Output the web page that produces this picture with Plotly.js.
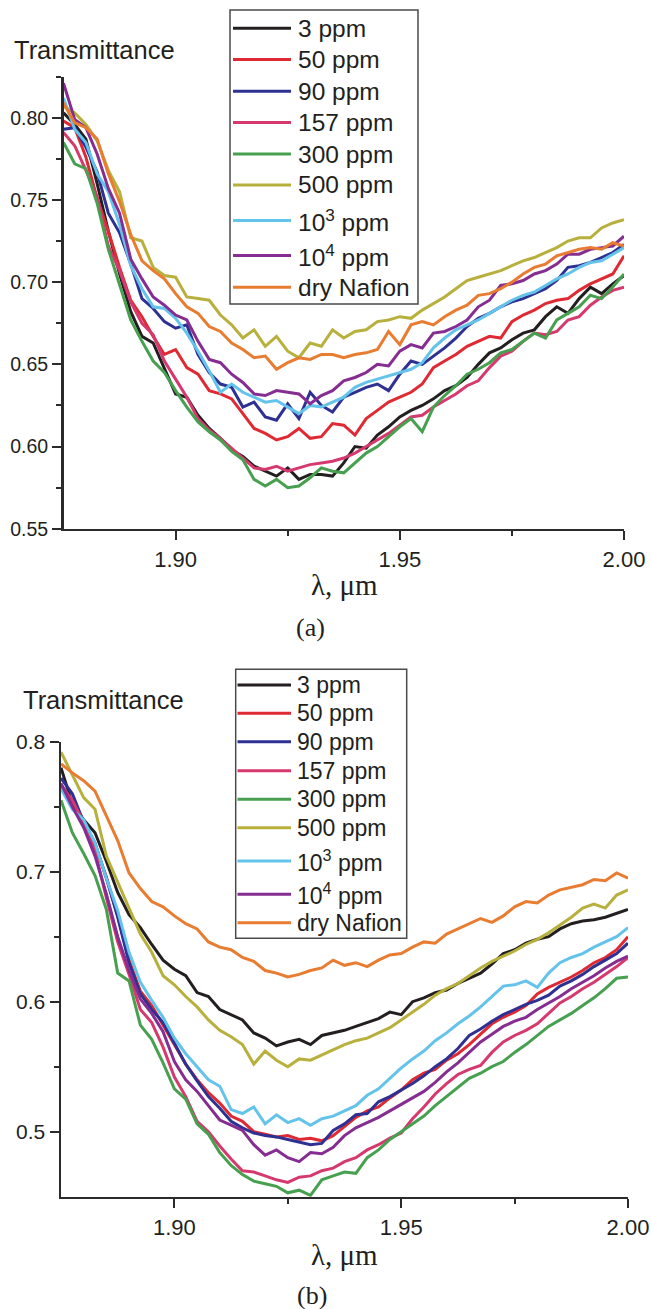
<!DOCTYPE html>
<html>
<head>
<meta charset="utf-8">
<script src="https://cdn.plot.ly/plotly-3.0.1.min.js"></script>
<style>
html,body{margin:0;padding:0;background:#fff;}
#chart{width:651px;height:1309px;}
</style>
</head>
<body>
<div id="chart"></div>
<script>
// ---------- DATA ----------
const wavelength = [1.875,1.8775,1.88,1.8825,1.885,1.8875,1.89,1.8925,1.895,1.8975,
  1.9,1.9025,1.905,1.9075,1.91,1.9125,1.915,1.9175,1.92,1.9225,
  1.925,1.9275,1.93,1.9325,1.935,1.9375,1.94,1.9425,1.945,1.9475,
  1.95,1.9525,1.955,1.9575,1.96,1.9625,1.965,1.9675,1.97,1.9725,
  1.975,1.9775,1.98,1.9825,1.985,1.9875,1.99,1.9925,1.995,1.9975,2.0];

const seriesNames = ['3 ppm','50 ppm','90 ppm','157 ppm','300 ppm','500 ppm','10<sup>3</sup> ppm','10<sup>4</sup> ppm','dry Nafion'];

// panel (a)
const a_3ppm = [.803,.796,.787,.760,.731,.705,.682,.667,.663,.648, .632,.630,.619,.611,.605,.598,.594,.588,.585,.582, .587,.580,.583,.583,.582,.590,.600,.599,.607,.612, .618,.622,.625,.629,.634,.637,.642,.650,.657,.660, .665,.669,.671,.679,.685,.681,.690,.697,.693,.699, .704];
const a_50ppm = [.798,.794,.776,.751,.731,.709,.689,.679,.667,.656, .659,.648,.644,.634,.632,.629,.620,.611,.608,.604, .606,.611,.605,.606,.614,.613,.607,.617,.622,.627, .630,.633,.638,.648,.652,.656,.661,.664,.667,.666, .676,.680,.683,.687,.689,.690,.695,.699,.702,.705, .716];
const a_90ppm = [.793,.794,.782,.767,.742,.730,.711,.690,.684,.676, .672,.674,.656,.645,.638,.636,.624,.627,.618,.616, .626,.617,.633,.625,.621,.630,.633,.636,.638,.634, .644,.652,.650,.655,.660,.666,.673,.678,.681,.685, .688,.690,.693,.696,.701,.709,.710,.712,.715,.718, .723];
const a_157ppm = [.791,.783,.768,.752,.722,.707,.688,.675,.668,.652, .641,.630,.617,.610,.605,.599,.593,.587,.586,.588, .585,.587,.589,.590,.591,.593,.596,.600,.604,.608, .613,.618,.619,.624,.628,.632,.637,.640,.648,.655, .658,.664,.669,.668,.670,.677,.679,.686,.691,.695, .697];
const a_300ppm = [.785,.772,.769,.748,.720,.699,.677,.664,.652,.645, .634,.624,.615,.609,.604,.597,.592,.580,.576,.580, .575,.576,.581,.587,.585,.584,.590,.596,.600,.606, .612,.617,.609,.624,.631,.637,.644,.647,.651,.657, .659,.664,.669,.666,.677,.681,.685,.692,.690,.697, .705];
const a_500ppm = [.807,.803,.796,.786,.768,.755,.727,.725,.709,.704, .703,.691,.690,.689,.680,.674,.666,.671,.661,.667, .658,.654,.663,.661,.671,.666,.670,.671,.676,.677, .679,.678,.683,.687,.691,.696,.701,.703,.705,.707, .710,.713,.715,.718,.721,.725,.727,.727,.733,.736, .738];
const a_1e3ppm = [.812,.793,.785,.766,.755,.735,.710,.696,.685,.684, .678,.669,.658,.646,.633,.638,.633,.630,.627,.628, .624,.620,.625,.624,.627,.630,.636,.639,.641,.643, .645,.647,.651,.660,.666,.671,.674,.677,.681,.685, .689,.692,.694,.698,.702,.705,.709,.712,.713,.717, .721];
const a_1e4ppm = [.821,.799,.794,.778,.757,.742,.714,.702,.691,.686, .680,.677,.664,.653,.651,.644,.639,.632,.631,.634, .633,.632,.626,.631,.634,.640,.642,.645,.650,.649, .658,.662,.660,.669,.670,.673,.677,.685,.689,.698, .699,.701,.705,.707,.711,.717,.717,.720,.721,.722, .728];
const a_dry = [.809,.797,.794,.787,.766,.749,.729,.713,.707,.702, .693,.685,.681,.673,.670,.663,.659,.654,.655,.647, .651,.654,.653,.656,.656,.654,.656,.657,.659,.670, .662,.674,.676,.674,.679,.683,.686,.692,.693,.696, .700,.705,.709,.711,.716,.718,.720,.721,.720,.724, .722];

// panel (b)
const b_3ppm = [.780,.752,.740,.730,.708,.684,.667,.657,.644,.632, .625,.620,.607,.604,.594,.590,.586,.576,.572,.566, .569,.571,.567,.574,.576,.578,.581,.584,.587,.592, .590,.600,.603,.607,.609,.614,.618,.622,.629,.637, .640,.645,.648,.650,.656,.660,.662,.663,.665,.668, .671];
const b_50ppm = [.765,.755,.738,.720,.696,.666,.632,.608,.597,.582, .566,.552,.540,.530,.522,.512,.508,.500,.498,.496, .497,.494,.495,.493,.497,.504,.511,.516,.519,.526, .532,.540,.545,.548,.555,.560,.567,.575,.583,.588, .592,.597,.606,.611,.615,.619,.624,.630,.634,.640, .650];
const b_90ppm = [.772,.760,.738,.722,.695,.665,.630,.606,.594,.584, .568,.552,.539,.527,.518,.508,.503,.499,.497,.496, .494,.492,.490,.491,.501,.506,.513,.514,.523,.527, .532,.537,.543,.550,.556,.564,.574,.579,.585,.590, .594,.598,.601,.605,.612,.616,.621,.627,.632,.637, .645];
const b_157ppm = [.767,.755,.738,.716,.680,.646,.621,.594,.584,.565, .542,.527,.508,.500,.489,.479,.470,.469,.466,.463, .461,.465,.466,.470,.472,.477,.480,.486,.490,.495, .499,.510,.519,.529,.537,.544,.548,.551,.561,.569, .574,.578,.583,.591,.599,.604,.610,.615,.621,.627, .634];
const b_300ppm = [.755,.730,.714,.697,.671,.622,.616,.582,.571,.553, .533,.525,.506,.498,.484,.474,.467,.462,.460,.458, .453,.455,.451,.463,.466,.469,.468,.480,.486,.494, .500,.506,.512,.520,.527,.534,.541,.545,.550,.554, .561,.567,.574,.581,.586,.591,.597,.603,.610,.618, .619];
const b_500ppm = [.792,.775,.757,.748,.712,.692,.672,.652,.638,.620, .613,.604,.596,.586,.578,.573,.567,.552,.562,.555, .550,.556,.555,.559,.563,.567,.570,.572,.576,.580, .586,.592,.598,.605,.610,.614,.620,.626,.631,.635, .639,.644,.648,.653,.659,.665,.672,.675,.672,.682, .686];
const b_1e3ppm = [.764,.748,.740,.722,.695,.670,.638,.615,.601,.588, .572,.560,.550,.540,.535,.517,.514,.519,.506,.513, .507,.510,.505,.510,.512,.516,.520,.528,.533,.541, .549,.556,.562,.570,.576,.583,.589,.596,.604,.612, .613,.616,.611,.622,.630,.634,.637,.642,.646,.650, .657];
const b_1e4ppm = [.768,.750,.734,.712,.683,.650,.624,.602,.591,.577, .554,.540,.531,.520,.509,.505,.501,.490,.482,.486, .480,.477,.484,.483,.488,.497,.503,.507,.511,.516, .521,.526,.531,.538,.546,.553,.561,.569,.575,.581, .585,.588,.594,.599,.604,.610,.615,.620,.626,.631, .635];
const b_dry = [.783,.776,.770,.762,.743,.724,.699,.687,.677,.673, .666,.660,.656,.646,.642,.640,.634,.631,.624,.622, .619,.621,.624,.626,.632,.628,.630,.627,.632,.636, .637,.642,.646,.645,.652,.656,.660,.664,.661,.666, .673,.677,.676,.682,.686,.688,.690,.694,.693,.699, .695];

const xTickVals = [1.90, 1.95, 2.00];
const xTickText = ['1.90', '1.95', '2.00'];
const yTickValsA = [0.55, 0.60, 0.65, 0.70, 0.75, 0.80];
const yTickTextA = ['0.55', '0.60', '0.65', '0.70', '0.75', '0.80'];
const yTickValsB = [0.5, 0.6, 0.7, 0.8];
const yTickTextB = ['0.5', '0.6', '0.7', '0.8'];

// ---------- STYLE / LAYOUT ----------
const colors = ['#231f20','#df2a33','#2e3192','#d6396e','#47a04f','#b8b03c','#63c3ea','#852d91','#e87c30'];
const seriesA = [a_3ppm,a_50ppm,a_90ppm,a_157ppm,a_300ppm,a_500ppm,a_1e3ppm,a_1e4ppm,a_dry];
const seriesB = [b_3ppm,b_50ppm,b_90ppm,b_157ppm,b_300ppm,b_500ppm,b_1e3ppm,b_1e4ppm,b_dry];

const W = 651, H = 1309;
const px = v => v / W;
const py = v => 1 - v / H;

const SANS = 'Liberation Sans, Arial, Helvetica, sans-serif';
const SERIF = 'Liberation Serif, Times New Roman, serif';
const INK = '#231f20';
const AX = '#2b2b2b';

const traces = [];
seriesA.forEach((ys, i) => traces.push({
  x: wavelength, y: ys, type: 'scatter', mode: 'lines', name: seriesNames[i],
  xaxis: 'x', yaxis: 'y', line: {color: colors[i], width: 3}, hoverinfo: 'skip', showlegend: false
}));
seriesB.forEach((ys, i) => traces.push({
  x: wavelength, y: ys, type: 'scatter', mode: 'lines', name: seriesNames[i],
  xaxis: 'x2', yaxis: 'y2', line: {color: colors[i], width: 3}, hoverinfo: 'skip', showlegend: false
}));

function axisBase(extra) {
  return Object.assign({
    showline: true, linecolor: AX, linewidth: 2.5, mirror: false,
    ticks: 'outside', ticklen: 9, tickwidth: 2, tickcolor: AX,
    showgrid: false, zeroline: false, fixedrange: true,
    tickmode: 'array'
  }, extra);
}

const layout = {
  width: W, height: H,
  margin: {l: 0, r: 0, t: 0, b: 0},
  paper_bgcolor: '#fff', plot_bgcolor: '#fff',
  showlegend: false,
  xaxis: axisBase({
    domain: [px(63.5), px(624)], range: [1.875, 2.0], anchor: 'y',
    tickvals: xTickVals, ticktext: xTickText,
    tickfont: {family: SANS, size: 22, color: INK},
    minor: {tickmode: 'array', tickvals: [1.925, 1.975], ticks: 'outside', ticklen: 5, tickwidth: 2, tickcolor: AX}
  }),
  yaxis: axisBase({
    domain: [py(528.7), py(76.7)], range: [0.55, 0.825], anchor: 'x',
    tickvals: yTickValsA, ticktext: yTickTextA,
    tickfont: {family: SANS, size: 19.5, color: INK},
    minor: {tickmode: 'array', tickvals: [0.575, 0.625, 0.675, 0.725, 0.775, 0.825], ticks: 'outside', ticklen: 5, tickwidth: 2, tickcolor: AX}
  }),
  xaxis2: axisBase({
    domain: [px(61), px(628)], range: [1.875, 2.0], anchor: 'y2',
    tickvals: xTickVals, ticktext: xTickText,
    tickfont: {family: SANS, size: 22, color: INK},
    minor: {tickmode: 'array', tickvals: [1.925, 1.975], ticks: 'outside', ticklen: 5, tickwidth: 2, tickcolor: AX}
  }),
  yaxis2: axisBase({
    domain: [py(1196.7), py(741.7)], range: [0.45, 0.8], anchor: 'x2',
    tickvals: yTickValsB, ticktext: yTickTextB,
    tickfont: {family: SANS, size: 21, color: INK},
    minor: {tickmode: 'array', tickvals: [0.55, 0.65, 0.75], ticks: 'outside', ticklen: 5, tickwidth: 2, tickcolor: AX}
  }),
  shapes: [],
  annotations: []
};

function addText(text, x, y, font, xanchor) {
  layout.annotations.push({
    text: text, xref: 'paper', yref: 'paper', x: px(x), y: py(y),
    xanchor: xanchor || 'left', yanchor: 'middle', showarrow: false, font: font
  });
}
addText('Transmittance', 12, 50, {family: SANS, size: 25.5, color: INK});
addText('Transmittance', 21, 700, {family: SANS, size: 25.5, color: INK});
addText('λ, μm', 344, 585, {family: SERIF, size: 29, color: INK}, 'center');
addText('λ, μm', 344.5, 1255, {family: SERIF, size: 29, color: INK}, 'center');
addText('(a)', 310, 628, {family: SERIF, size: 26, color: INK}, 'center');
addText('(b)', 312, 1295, {family: SERIF, size: 26, color: INK}, 'center');

function addLegend(box, rows, lineX0, lineX1, textX, fontSize) {
  layout.shapes.push({
    type: 'rect', xref: 'paper', yref: 'paper', layer: 'above',
    x0: px(box[0]), x1: px(box[1]), y0: py(box[3]), y1: py(box[2]),
    line: {color: '#4a4a4a', width: 1.5}, fillcolor: '#fff'
  });
  rows.forEach((ry, i) => {
    layout.shapes.push({
      type: 'line', xref: 'paper', yref: 'paper', layer: 'above',
      x0: px(lineX0), x1: px(lineX1), y0: py(ry), y1: py(ry),
      line: {color: colors[i], width: 3}
    });
    layout.annotations.push({
      text: seriesNames[i], xref: 'paper', yref: 'paper',
      x: px(textX), y: py(ry), xanchor: 'left', yanchor: 'middle',
      showarrow: false, borderpad: 0,
      font: {family: SANS, size: fontSize, color: INK}
    });
  });
}
addLegend([230, 418, 10, 304], [28.3, 59.5, 91.3, 122.5, 154, 185, 220.5, 255.5, 287.3], 233, 291, 297, 24.5);
addLegend([235.7, 406.7, 669.3, 938.3], [685, 713.3, 741.7, 770.7, 799.3, 827.7, 861, 894.3, 922.7], 237.5, 291, 296, 23);

Plotly.newPlot('chart', traces, layout, {displayModeBar: false, staticPlot: true}).then(gd => {
  // drop empty placeholder text nodes (unused title slots)
  gd.querySelectorAll('text').forEach(t => { if (!t.textContent.trim()) t.remove(); });
});
</script>
</body>
</html>
